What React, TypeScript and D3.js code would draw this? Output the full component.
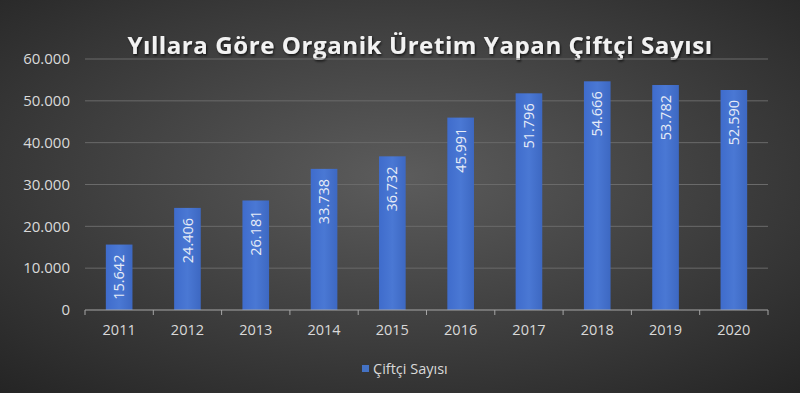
import React from "react";
import * as d3 from "d3";

const years = ["2011","2012","2013","2014","2015","2016","2017","2018","2019","2020"];
const values = [15642, 24406, 26181, 33738, 36732, 45991, 51796, 54666, 53782, 52590];
const yTicks = [0, 10000, 20000, 30000, 40000, 50000, 60000];
const title = "Yıllara Göre Organik Üretim Yapan Çiftçi Sayısı";
const seriesName = "Çiftçi Sayısı";

const W = 800, H = 393;
const left = 85, right = 768, top = 59, bottom = 310;
const font = "'Open Sans', 'Noto Sans', sans-serif";

const fmt = (v: number) => v === 0 ? "0" : d3.format(",")(v).replace(/,/g, ".");

export default function App() {
  const x = d3.scaleBand<string>().domain(years).range([left, right]).paddingInner(0.61).paddingOuter(0.305);
  const xt = d3.scaleBand<string>().domain(years).range([left, right]);
  const y = d3.scaleLinear().domain([0, 60000]).range([bottom, top]);
  return (
    <svg width={W} height={H} style={{ position: "absolute", left: 0, top: 0, display: "block" }}>
      <defs>
        <radialGradient id="bg" cx="50%" cy="45%" r="75%">
          <stop offset="0%" stopColor="#5c5c5c" />
          <stop offset="100%" stopColor="#242424" />
        </radialGradient>
        <linearGradient id="bar" x1="0" x2="1" y1="0" y2="0">
          <stop offset="0%" stopColor="#3f6ccc" />
          <stop offset="50%" stopColor="#4a78d4" />
          <stop offset="100%" stopColor="#3d68c2" />
        </linearGradient>
        <filter id="ts" x="-10%" y="-30%" width="120%" height="160%">
          <feDropShadow dx="1" dy="1.5" stdDeviation="1.2" floodColor="#000" floodOpacity="0.7" />
        </filter>
      </defs>
      <rect x={0} y={0} width={W} height={H} fill="url(#bg)" />
      <text x={420} y={54} textAnchor="middle" fill="#f2f2f2" fontFamily={font} fontWeight="bold" fontSize={24} letterSpacing={0.6} filter="url(#ts)">{title}</text>
      {yTicks.map(t => (
        <g key={t}>
          {t > 0 && <line x1={left} x2={right} y1={y(t)} y2={y(t)} stroke="#6a6a6a" strokeWidth={1} />}
          <text x={70} y={y(t)} dy="0.35em" textAnchor="end" fill="#d9d9d9" fontFamily={font} fontSize={15}>{fmt(t)}</text>
        </g>
      ))}
      {years.map((yr, i) => (
        <g key={yr}>
          <rect x={x(yr)} y={y(values[i])} width={x.bandwidth()} height={bottom - y(values[i])} fill="url(#bar)" />
          <text transform={`translate(${(x(yr) as number) + x.bandwidth() / 2},${y(values[i]) + 10}) rotate(-90)`}
            textAnchor="end" dy="0.35em" fill="#e6ecf7" fontFamily={font} fontSize={14.5}>{fmt(values[i])}</text>
          <text x={(xt(yr) as number) + xt.bandwidth() / 2} y={330} dy="0.35em" textAnchor="middle" fill="#d9d9d9" fontFamily={font} fontSize={14.5}>{yr}</text>
        </g>
      ))}
      <line x1={left} x2={right} y1={bottom} y2={bottom} stroke="#a6a6a6" strokeWidth={1} />
      {[...years.map(yr => xt(yr) as number), right].map((tx, i) => (
        <line key={i} x1={tx} x2={tx} y1={bottom} y2={bottom + 5} stroke="#a6a6a6" strokeWidth={1} />
      ))}
      <rect x={362} y={365} width={7} height={7} fill="#4472c4" />
      <text x={373} y={369} dy="0.35em" fill="#d9d9d9" fontFamily={font} fontSize={14.5}>{seriesName}</text>
    </svg>
  );
}
